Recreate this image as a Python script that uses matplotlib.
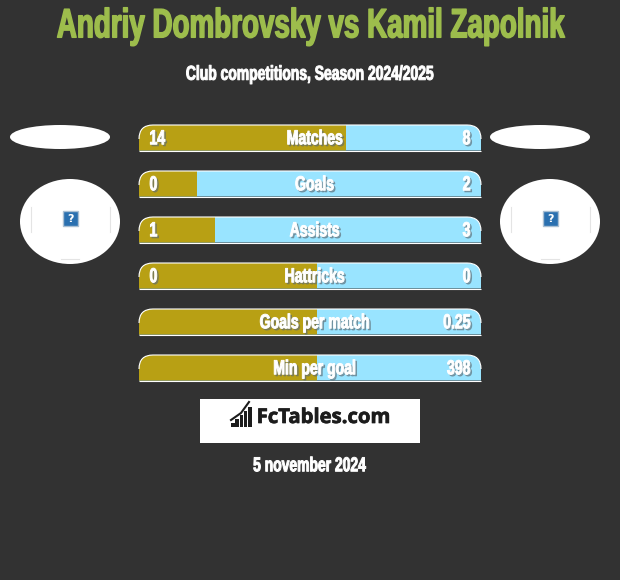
import matplotlib
matplotlib.use('Agg')
import matplotlib.pyplot as plt
import matplotlib.patheffects as pe
from matplotlib.patches import Ellipse, Rectangle, PathPatch
from matplotlib.path import Path
from matplotlib.transforms import Affine2D

BG = '#323232'
GOLD = '#b8a014'
BLUE = '#99e4ff'
FONT = 'Liberation Sans'

title = 'Andriy Dombrovsky vs Kamil Zapolnik'
subtitle = 'Club competitions, Season 2024/2025'
date_text = '5 november 2024'
logo_text = 'FcTables.com'

categories = ['Matches', 'Goals', 'Assists', 'Hattricks', 'Goals per match', 'Min per goal']
left_labels = ['14', '0', '1', '0', '', '']
right_labels = ['8', '2', '3', '0', '0.25', '398']
left_share = [0.605, 0.17, 0.222, 0.52, 0.52, 0.52]
logo_bars = [4, 8, 12, 16, 20]

fig = plt.figure(figsize=(6.2, 5.8), dpi=100, facecolor=BG)
ax = fig.add_axes([0, 0, 1, 1])
ax.set_xlim(0, 620)
ax.set_ylim(580, 0)
ax.axis('off')


# no condensed font is installed, so use a small size and stretch the glyphs up when drawn
class Tall(pe.AbstractPathEffect):

  def __init__(self, y, sy, bold, shadow=False):
    super().__init__()
    self.cy = 580 - y
    self.sy = sy
    self.bold = bold
    self.shadow = shadow

  def draw_path(self, renderer, gc, tpath, affine, rgbFace=None):
    tall = affine + Affine2D().translate(0, -self.cy).scale(1, self.sy).translate(0, self.cy)
    if self.shadow:
      gc0 = renderer.new_gc()
      gc0.copy_properties(gc)
      gc0.set_foreground('#5d6a73')
      gc0.set_alpha(0.55)
      gc0.set_linewidth(self.bold)
      renderer.draw_path(gc0, tpath, tall + Affine2D().translate(1.6, -1.6), (0.36, 0.42, 0.45))
      gc0.restore()
    gc1 = renderer.new_gc()
    gc1.copy_properties(gc)
    gc1.set_foreground(rgbFace)
    gc1.set_linewidth(self.bold)
    renderer.draw_path(gc1, tpath, tall, rgbFace)
    gc1.restore()


def tall_text(x, y, s, size, sy, color='white', bold=0.7, shadow=False, ha='center'):
  return ax.text(x, y, s, color=color, fontsize=size, fontweight='bold', family=FONT, ha=ha, va='center',
                 zorder=6, path_effects=[Tall(y, sy, bold, shadow)])


def top_round(x0, x1, y0, y1, r):
  verts = [(x0, y1), (x0, y0 + r), (x0, y0), (x0 + r, y0), (x1 - r, y0), (x1, y0), (x1, y0 + r), (x1, y1), (x0, y1)]
  codes = [Path.MOVETO, Path.LINETO, Path.CURVE3, Path.CURVE3, Path.LINETO, Path.CURVE3, Path.CURVE3, Path.LINETO, Path.CLOSEPOLY]
  return Path(verts, codes)


# heading
tall_text(310, 27, title, 20, 1.47, color='#9dbd4c', bold=1.1)
tall_text(309.5, 74, subtitle, 10, 1.45)

# stat bars
bar_x0, bar_x1 = 139, 481
bar_w = bar_x1 - bar_x0
for i, cat in enumerate(categories):
  top = 125 + i * 46
  bottom = top + 25.5
  mid = top + 13
  shape = PathPatch(top_round(bar_x0, bar_x1, top, bottom, 14), facecolor=BLUE, edgecolor='none', zorder=2)
  ax.add_patch(shape)
  left = ax.barh(mid, left_share[i] * bar_w, height=26, left=bar_x0, color=GOLD, zorder=3)
  left[0].set_clip_path(shape)
  # thin white rim, top curve and bottom only
  rim = Path(top_round(bar_x0, bar_x1, top, bottom, 14).vertices[1:7], [Path.MOVETO, Path.CURVE3, Path.CURVE3, Path.LINETO, Path.CURVE3, Path.CURVE3])
  ax.add_patch(PathPatch(rim, facecolor='none', edgecolor='white', lw=0.8, zorder=4))
  ax.plot([bar_x0, bar_x1], [bottom, bottom], color='white', lw=0.8, zorder=4, solid_capstyle='butt')
  tall_text(314.5, mid + 0.5, cat, 10.1, 1.44, shadow=True)
  if left_labels[i]:
    tall_text(149.5, mid + 0.5, left_labels[i], 10.1, 1.44, shadow=True, ha='left')
  tall_text(470.5, mid + 0.5, right_labels[i], 10.1, 1.44, shadow=True, ha='right')

# team badges
for cx in (60, 540):
  ax.add_patch(Ellipse((cx, 137), 100, 24, facecolor='white', edgecolor='none'))
for cx in (70, 550):
  ax.add_patch(Ellipse((cx, 221.5), 100, 85, facecolor='white', edgecolor='none'))
  ax.plot([cx - 39.5, cx - 39.5], [207, 232], color='#e4e4e4', lw=0.8)
  ax.plot([cx + 39.5, cx + 39.5], [207, 232], color='#e4e4e4', lw=0.8)
  ax.plot([cx - 9, cx + 9], [258.5, 258.5], color='#e4e4e4', lw=0.8)
  ax.add_patch(Rectangle((cx - 7.5, 211), 15, 15, facecolor='#2a70b0', edgecolor='#a9bfd3', lw=1))
  ax.text(cx, 218.8, '?', color='white', fontsize=8, fontweight='bold', family='DejaVu Sans',
          ha='center', va='center')

# logo
ax.add_patch(Rectangle((200, 399), 220, 44, facecolor='white', edgecolor='none'))
ax.bar([233 + 4.2 * k for k in range(5)], logo_bars, width=3.6, bottom=[427 - h for h in logo_bars], color='#1c1c1c')
ax.plot([231, 241, 249], [420, 413, 402], color='#1c1c1c', lw=1.5)
ax.text(323.5, 418, logo_text, color='#1c1c1c', fontsize=14.6, fontweight='bold', family='Open Sans',
        ha='center', va='center', path_effects=[pe.withStroke(linewidth=0.5, foreground='#1c1c1c')])

tall_text(309.5, 465.5, date_text, 10, 1.45)

fig.savefig('out.png', dpi=100, facecolor=BG)
